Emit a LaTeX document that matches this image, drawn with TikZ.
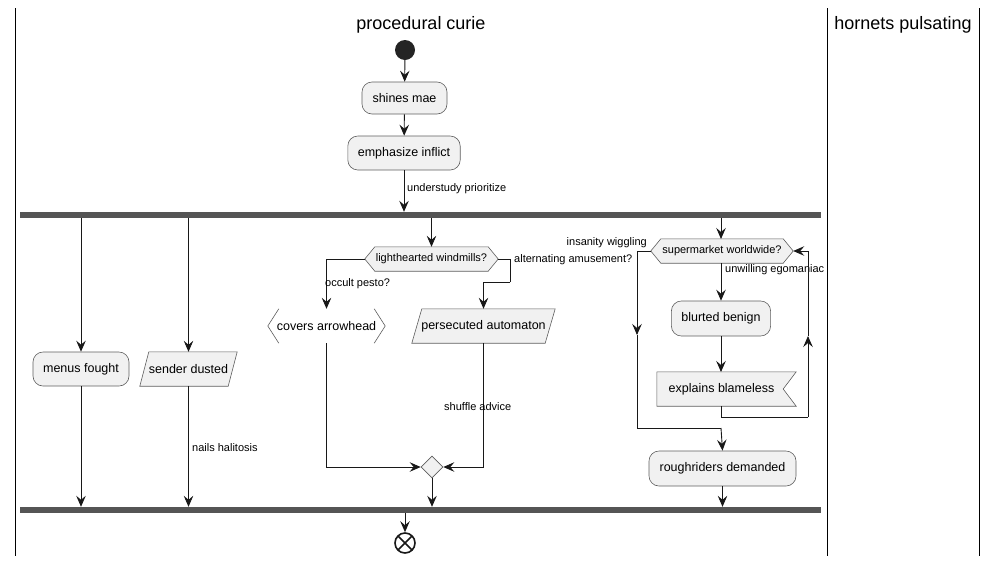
\documentclass[tikz,border=0pt]{standalone}
\usepackage{fontspec}
\setmainfont{Liberation Sans}
\usetikzlibrary{arrows.meta,shapes.geometric,calc}
\definecolor{boxfill}{HTML}{F1F1F1}
\definecolor{boxline}{HTML}{5E5E5E}
\definecolor{edge}{HTML}{181818}
\definecolor{barc}{HTML}{555555}
\tikzset{
  arr/.style={draw=edge,line width=0.9pt,-{Stealth[length=11pt,width=9.5pt,inset=4pt]}},
  ln/.style={draw=edge,line width=0.9pt},
  rbox/.style={draw=boxline,fill=boxfill,rounded corners=10pt,line width=0.6pt,minimum height=34pt,inner xsep=10pt,font=\fontsize{12.5}{14}\selectfont},
  plain/.style={minimum height=34pt,inner xsep=0pt,font=\fontsize{12.5}{14}\selectfont},
  hexa/.style={minimum height=24pt,inner xsep=0pt,font=\fontsize{11}{13}\selectfont},
  shp/.style={draw=boxline,fill=boxfill,line width=0.6pt},
  bar/.style={fill=barc,minimum height=6pt,inner sep=0pt},
  lbl/.style={font=\fontsize{11}{13}\selectfont,inner sep=0pt},
  lane/.style={draw=black,line width=1pt},
  ttl/.style={font=\fontsize{18}{20}\selectfont,inner sep=0pt}
}
\begin{document}
\begin{tikzpicture}[x=1pt,y=-1pt]
\useasboundingbox (0,0) rectangle (998,563);
% lanes
\draw[lane] (15,8) -- (15,556);
\draw[lane] (827,8) -- (827,556);
\draw[lane] (979,8) -- (979,556);
\node[ttl] (t1) at (421,25) {procedural curie};
\node[ttl] (t2) at (903,25) {hornets pulsating};
% start
\node[circle,fill=edge!95!white,minimum size=20pt,inner sep=0pt] (start) at (405,50) {};
\node[rbox,minimum width=85pt,minimum height=32pt] (a1) at (404.5,98) {shines mae};
\node[rbox,minimum width=112pt] (a2) at (404,153) {emphasize inflict};
\node[bar,minimum width=801pt] (fork) at (420.5,215) {};
\node[bar,minimum width=801pt] (join) at (420.5,510) {};
\draw[arr] (start) -- (a1);
\draw[arr] (a1) -- (a2);
\draw[arr] (a2.south) -- (a2.south |- fork.north);
\node[lbl,anchor=west] (l0) at (407,189) {understudy prioritize};
% branch 1
\node[rbox,minimum width=96pt] (b1) at (81,369) {menus fought};
\draw[arr] (b1.north |- fork.south) -- (b1.north);
\draw[arr] (b1.south) -- (b1.south |- join.north);
% branch 2
\node[plain,minimum width=97pt] (b2) at (188.5,369) {};
\path[shp] (b2.south west) -- ($(b2.north west)+(9,0)$) -- (b2.north east) -- ($(b2.south east)+(-9,0)$) -- cycle;
\node[plain] (b2t) at (b2) {sender dusted};
\draw[arr] (b2.north |- fork.south) -- (b2.north);
\draw[arr] (b2.south) -- (b2.south |- join.north);
\node[lbl,anchor=west] (l2) at (192,448) {nails halitosis};
% branch 3
\node[hexa,minimum width=133pt] (d1) at (431.5,259) {};
\path[shp] (d1.west) -- ($(d1.north west)+(10,0)$) -- ($(d1.north east)+(-10,0)$) -- (d1.east) -- ($(d1.south east)+(-10,0)$) -- ($(d1.south west)+(10,0)$) -- cycle;
\node[hexa] (d1t) at (d1) {lighthearted windmills?};
\draw[arr] (d1.north |- fork.south) -- (d1.north);
\node[plain,minimum width=117pt,fill=white] (c1) at (326.5,326) {covers arrowhead};
\draw[draw=boxline,line width=0.6pt] ($(c1.north west)+(11,0)$) -- (c1.west) -- ($(c1.south west)+(11,0)$);
\draw[draw=boxline,line width=0.6pt] ($(c1.north east)+(-11,0)$) -- (c1.east) -- ($(c1.south east)+(-11,0)$);
\node[plain,minimum width=143pt] (p1) at (483.5,326) {};
\path[shp] (p1.south west) -- ($(p1.north west)+(10,0)$) -- (p1.north east) -- ($(p1.south east)+(-10,0)$) -- cycle;
\node[plain] (p1t) at (p1) {persecuted automaton};
\draw[arr] (d1.west) -| (c1.north);
\node[lbl,anchor=west] (l3) at (325,284) {occult pesto?};
\coordinate (k1) at (510,282);
\draw[ln] (d1.east) -| (k1);
\draw[arr] (k1) -| (p1.north);
\node[lbl,anchor=west] (l4) at (514,260) {alternating amusement?};
\node[diamond,shp,minimum width=22pt,minimum height=22pt,inner sep=0pt,aspect=1] (m1) at (432,467) {};
\draw[arr] (c1.south) |- (m1.west);
\draw[arr] (p1.south) |- (m1.east);
\node[lbl,anchor=west] (l5) at (444,407) {shuffle advice};
\draw[arr] (m1.south) -- (m1.south |- join.north);
% branch 4
\node[hexa,minimum width=142pt] (d2) at (722,251) {};
\path[shp] (d2.west) -- ($(d2.north west)+(10,0)$) -- ($(d2.north east)+(-10,0)$) -- (d2.east) -- ($(d2.south east)+(-10,0)$) -- ($(d2.south west)+(10,0)$) -- cycle;
\node[hexa] (d2t) at (d2) {supermarket worldwide?};
\draw[arr] (721,218) -- (721,239);
\node[rbox,minimum width=98pt,minimum height=35pt] (e1) at (721,318.5) {blurted benign};
\node[plain,minimum width=139pt] (e2) at (726.5,389) {};
\path[shp] (e2.south west) -- (e2.north west) -- (e2.north east) -- ($(e2.east)+(-13,0)$) -- (e2.south east) -- cycle;
\node[plain] (e2t) at ($(e2)+(-5,0)$) {explains blameless};
\node[rbox,minimum width=147pt,minimum height=35pt] (r1) at (722.5,468.5) {roughriders demanded};
\draw[arr] (721,263) -- (e1.north);
\node[lbl,anchor=west] (l6) at (725,270) {unwilling egomaniac};
\draw[arr] (e1.south) -- (721,372);
\coordinate (lb) at (808,417);
\coordinate (lbm) at (808,336);
\draw[ln] (721,406) |- (lb);
\draw[arr] (lb) -- (lbm);
\draw[arr] (lbm) |- (d2.east);
\coordinate (ins) at (637,335);
\coordinate (ij) at (721,428);
\draw[arr] (d2.west) -| (ins);
\draw[ln] (ins) |- (ij);
\draw[arr] (ij) -- (r1.north);
\node[lbl,anchor=east] (l7) at (647,243) {insanity wiggling};
\draw[arr] (r1.south) -- (r1.south |- join.north);
% end
\node[circle,draw=edge,fill=white,line width=1.6pt,minimum size=20pt,inner sep=0pt] (endn) at (405,543) {};
\draw[edge,line width=1.6pt] ($(endn)+(-7,-7)$) -- ($(endn)+(7,7)$) ($(endn)+(-7,7)$) -- ($(endn)+(7,-7)$);
\draw[arr] (405,513) -- (endn.north);
\end{tikzpicture}
\end{document}
